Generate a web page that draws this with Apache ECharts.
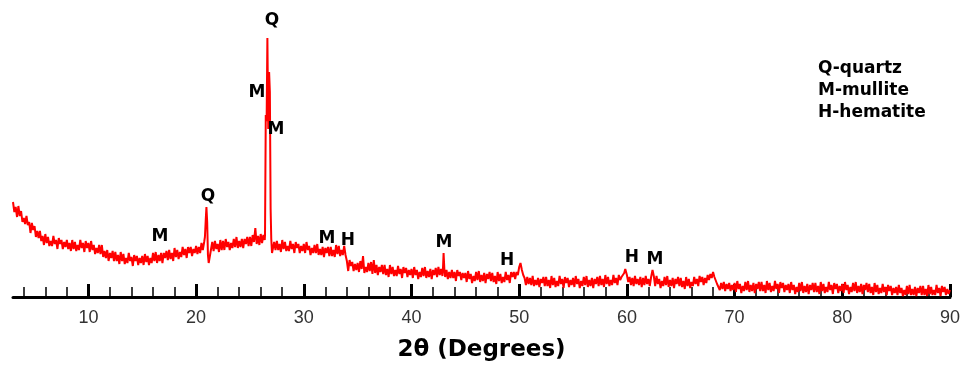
<!DOCTYPE html>
<html>
<head>
<meta charset="utf-8">
<script src="https://cdn.jsdelivr.net/npm/echarts@6/dist/echarts.min.js"></script>
<style>
  html, body { margin: 0; padding: 0; background: #fff; }
  #chart { width: 963px; height: 370px; }
</style>
</head>
<body>
<div id="chart"></div>
<script>
// intensity, one value every 0.125 deg (null = replaced by a peak)
const STEP = 0.125
const from3 = [95, 85, 90, 80, 91, 81, 86, 75, 79, 73, 81, 72, 75, 64, 74, 67, 71, 60, 66, 59,
  66, 56, 61, 52, 63, 54, 60, 51, 56, 51, 61, 53, 57, 48, 59, 53, 57, 48, 55, 50,
  57, 48, 54, 46, 57, 48, 55, 46, 52, 47, 57, 49, 54, 45, 56, 49]
const from10 = [54, 45, 56, 47, 52, 43, 49, 44, 52, 43, 52, 40, 46, 39, 47, 36, 44, 39, 46, 36,
  45, 36, 42, 33, 45, 36, 43, 33, 39, 34, 44, 36, 40, 31, 42, 36, 41, 32, 39, 34,
  41, 32, 43, 35, 41, 32, 39, 34, 44, 36, 45, 34, 42, 36, 44, 34, 44, 39, 46, 37,
  47, 38, 44, 36, 49, 40, 47, 38, 45, 40, 50, 42, 48, 39, 50, 44, 50, 41, 48, 44]
const from20 = [51, 43, 50, 44, 54, 47, 55, null, null, null, 36, 47, 55, 46, 56, 48, 53, 45, 57, 47,
  56, 47, 58, 50, 55, 47, 54, 49, 58, 50, 60, 49, 56, 50, 58, 49, 58, 53, 60, 51,
  60, 51, 62, 55, 69, 53, 61, 52, 63, 54, 62, 57, null, null, null, null, null, 46, 55, 47,
  56, 47, 53, 45, 57, 48, 55, 46, 51, 46, 56, 48, 53, 44, 55, 49, 53, 44, 51, 46]
const from30 = [53, 44, 55, 47, 51, 42, 49, 44, 52, 44, 53, 42, 48, 42, 50, 40, 49, 44, 50, 41,
  50, 41, 47, 40, 52, 43, 51, 41, 47, 42, 51, 42, 36, 26, 37, 31, 35, 26, 33, 27,
  34, 25, 36, 28, 41, 24, 30, 25, 34, 26, 35, 23, 37, 24, 32, 22, 30, 25, 32, 23,
  32, 22, 28, 20, 32, 23, 30, 21, 27, 21, 31, 23, 28, 19, 30, 24, 29, 20, 27, 22]
const from40 = [28, 19, 30, 22, 27, 18, 25, 20, 29, 21, 30, 19, 26, 20, 28, 18, 27, 22, 29, 20,
  30, 22, 28, 21, null, 20, 27, 18, 25, 19, 27, 19, 25, 16, 27, 21, 25, 17, 24, 19,
  24, 15, 26, 18, 23, 14, 21, 16, 25, 17, 26, 15, 22, 16, 24, 14, 23, 18, 25, 16,
  24, 15, 21, 13, 25, 16, 23, 14, 20, 15, 25, 17, 22, 14, 25, 20, 25, 18, 25, 22]
const from50 = [30, null, 27, 22, 19, 12, 20, 13, 19, 12, 21, 11, 17, 12, 19, 10, 18, 14, 20, 11,
  20, 11, 17, 9, 21, 12, 19, 10, 16, 11, 21, 13, 18, 9, 20, 14, 19, 10, 17, 12,
  19, 10, 21, 13, 18, 9, 16, 11, 20, 12, 21, 10, 17, 11, 19, 9, 18, 13, 20, 11,
  21, 12, 18, 10, 22, 13, 20, 11, 17, 12, 22, 14, 19, 12, 22, 17, 20, 21, 24, null]
const from60 = [22, 15, 20, 12, 19, 11, 21, 13, 18, 12, 20, 10, 19, 12, 21, 13, 18, 11, 20, null,
  21, 11, 21, 13, 18, 9, 16, 11, 20, 12, 21, 10, 17, 11, 19, 9, 18, 13, 20, 11,
  19, 10, 16, 8, 20, 11, 18, 9, 15, 11, 20, 13, 18, 11, 21, 15, 20, 12, 19, 14,
  22, 17, 23, 19, 25, 20, 19, 13, 15, 7, 14, 8, 15, 6, 13, 8, 14, 6, 12, 7]
const from70 = [14, 5, 16, 8, 13, 4, 11, 6, 15, 7, 16, 5, 12, 6, 14, 4, 13, 8, 15, 6,
  15, 6, 12, 4, 16, 7, 14, 5, 11, 6, 16, 8, 13, 4, 15, 9, 14, 5, 12, 7,
  13, 4, 15, 7, 12, 3, 10, 5, 14, 6, 15, 4, 11, 5, 13, 3, 12, 7, 14, 5,
  14, 5, 11, 3, 15, 6, 13, 4, 10, 5, 15, 7, 12, 3, 14, 8, 13, 4, 11, 6]
const from80 = [13, 4, 15, 7, 12, 3, 10, 5, 14, 6, 15, 4, 11, 5, 13, 3, 12, 7, 14, 5,
  13, 4, 10, 2, 14, 5, 12, 3, 9, 4, 13, 5, 10, 2, 12, 6, 11, 2, 9, 4,
  10, 2, 12, 4, 9, 1, 7, 2, 11, 3, 12, 2, 8, 2, 10, 1, 9, 4, 11, 2,
  11, 2, 8, 1, 12, 3, 10, 2, 7, 2, 12, 4, 9, 1, 11, 5, 10, 2, 8, 3, 7]

// sharp reflections, [2theta, intensity]
const peaks = [
  [20.82, 60], [20.9, 78], [20.96, 90], [21.03, 75], [21.1, 42], [21.17, 34],
  [26.4, 62], [26.47, 182], [26.55, 176], [26.62, 259], [26.7, 168], [26.78, 225],
  [26.85, 205], [26.92, 88], [26.98, 58], [27.05, 44],
  [42.93, 30], [42.98, 44], [43.05, 28],
  [50.12, 34], [59.85, 28], [62.38, 27]
]

// peak labels: [2theta, height, phase]
const peakLabels = [
  [27.05, 276, 'Q'], [25.66, 204, 'M'], [27.42, 167, 'M'], [21.11, 100, 'Q'],
  [16.65, 60, 'M'], [32.15, 58, 'M'], [34.1, 56, 'H'], [43.02, 54, 'M'],
  [48.87, 36, 'H'], [60.47, 39, 'H'], [62.61, 37, 'M']
]

const legendLines = ['Q-quartz', 'M-mullite', 'H-hematite']
const majorTicks = [10, 20, 30, 40, 50, 60, 70, 80, 90]
const minorTicks = [4, 6, 8, 12, 14, 16, 18, 22, 24, 26, 28, 32, 34, 36, 38, 42, 44, 46, 48,
  52, 54, 56, 58, 62, 64, 66, 68, 72, 74, 76, 78, 82, 84, 86, 88]

const segments = [[3, from3], [10, from10], [20, from20], [30, from30], [40, from40],
  [50, from50], [60, from60], [70, from70], [80, from80]]

const points = []
segments.forEach(([start, vals]) => {
  vals.forEach((v, i) => {
    if (v !== null) points.push([start + i * STEP, v])
  })
})
peaks.forEach(p => points.push(p))
points.sort((a, b) => a[0] - b[0])

const chart = echarts.init(document.getElementById('chart'))

const boldFont = 'DejaVu Sans'

chart.setOption({
  animation: false,
  backgroundColor: '#fff',
  grid: { left: 13, right: 13, top: 17, bottom: 73 },
  xAxis: [
    {
      type: 'value',
      min: 3,
      max: 90,
      axisLine: { show: true, lineStyle: { color: '#000', width: 3 } },
      axisTick: {
        show: true,
        inside: true,
        length: 10,
        customValues: minorTicks,
        lineStyle: { color: '#000', width: 1.5 }
      },
      axisLabel: { show: false },
      splitLine: { show: false }
    },
    {
      type: 'value',
      min: 3,
      max: 90,
      position: 'bottom',
      axisLine: { show: false },
      axisTick: {
        show: true,
        inside: true,
        length: 13,
        customValues: majorTicks,
        lineStyle: { color: '#000', width: 3 }
      },
      axisLabel: {
        customValues: majorTicks,
        margin: 12,
        fontFamily: 'Liberation Sans',
        fontSize: 18,
        color: '#333'
      },
      splitLine: { show: false },
      name: '2θ (Degrees)',
      nameLocation: 'middle',
      nameGap: 42,
      nameTextStyle: {
        fontFamily: boldFont,
        fontWeight: 'bold',
        fontSize: 23,
        color: '#000'
      }
    }
  ],
  yAxis: {
    type: 'value',
    min: 0,
    max: 280,
    show: false
  },
  graphic: legendLines.map((t, i) => ({
    type: 'text',
    left: 818,
    top: 60 + i * 22,
    style: {
      text: t,
      font: 'bold 17px "DejaVu Sans"',
      fill: '#000'
    }
  })),
  series: [
    {
      type: 'line',
      xAxisIndex: 0,
      data: points,
      symbol: 'none',
      lineStyle: { color: '#ff0000', width: 2 },
      itemStyle: { color: '#ff0000' },
      z: 2
    },
    {
      type: 'scatter',
      xAxisIndex: 0,
      symbolSize: 0,
      itemStyle: { opacity: 1 },
      data: peakLabels.map(p => ({ value: [p[0], p[1]], name: p[2] })),
      label: {
        show: true,
        position: 'inside',
        formatter: p => p.name,
        fontFamily: boldFont,
        fontWeight: 'bold',
        fontSize: 17,
        color: '#000',
        opacity: 1
      },
      z: 3
    }
  ]
})
</script>
</body>
</html>
